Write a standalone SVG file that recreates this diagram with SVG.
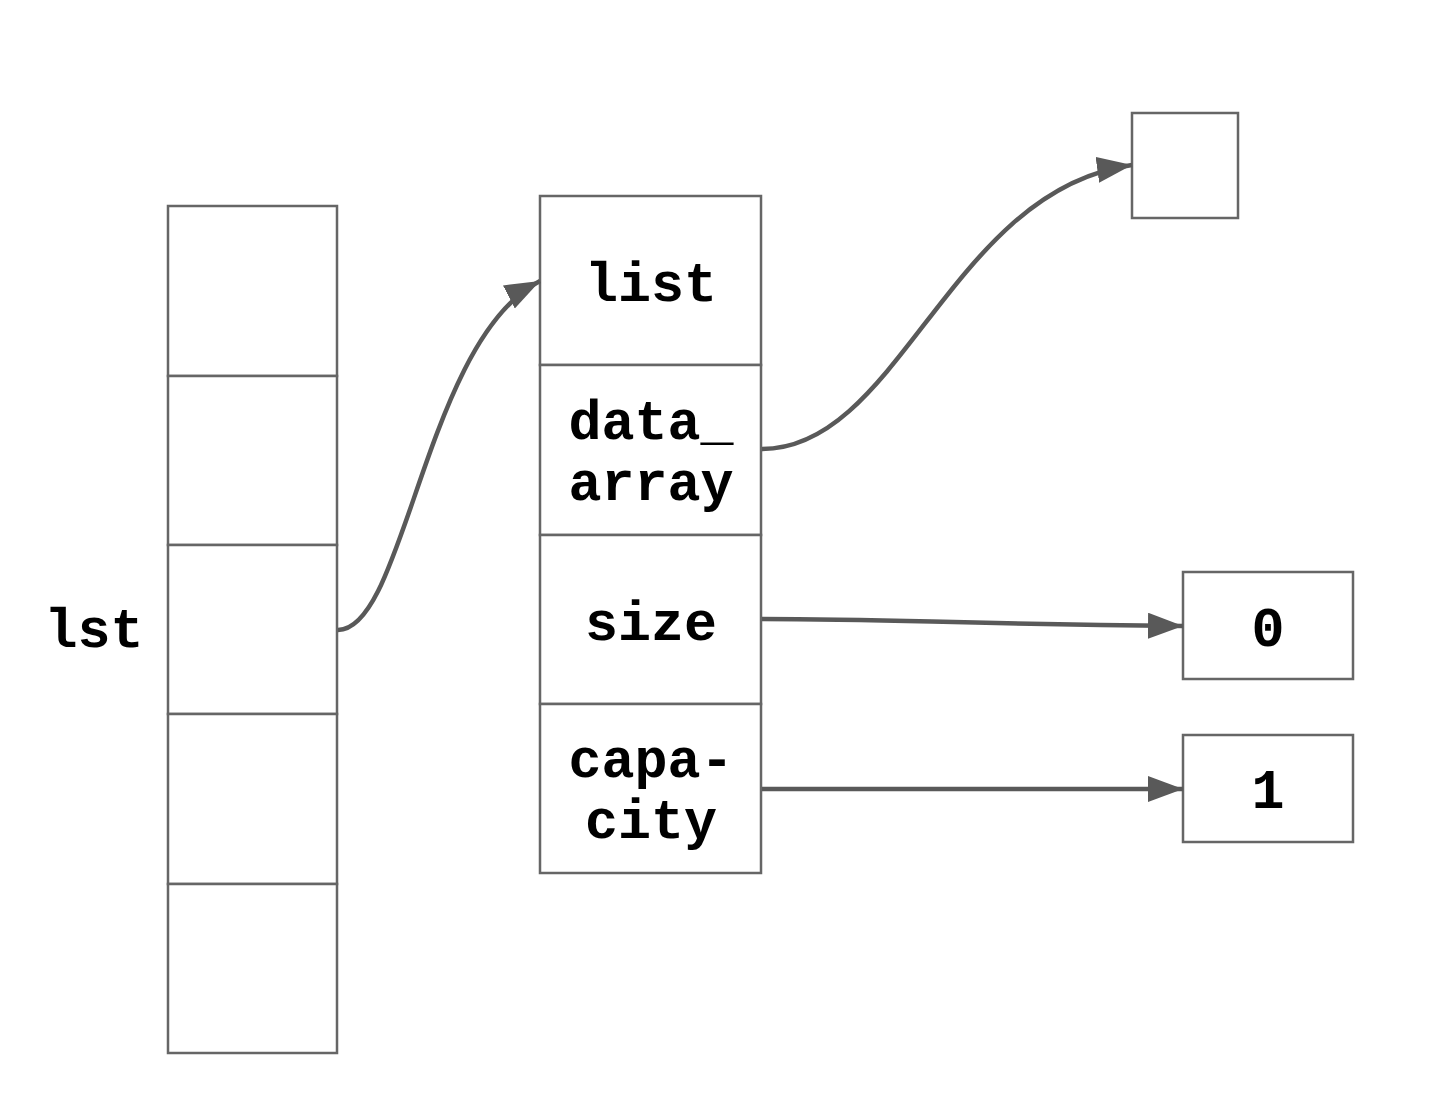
<svg xmlns="http://www.w3.org/2000/svg" width="1430" height="1094" viewBox="0 0 1430 1094">
<style>
.box{fill:#fff;stroke:#666;stroke-width:2.5}
.conn{fill:none;stroke:#595959;stroke-width:4.5}
.t{font-family:"Liberation Mono","Courier New",monospace;font-weight:bold;font-size:55px;fill:#000;text-anchor:middle}
</style>
<defs>
<marker id="ah" markerUnits="userSpaceOnUse" markerWidth="36" markerHeight="28" refX="35" refY="13" orient="auto">
<path d="M0,0 L35,13 L0,26 z" fill="#595959"/>
</marker>
</defs>
<rect width="1430" height="1094" fill="#fff"/>
<g id="lst-label"><text class="t" x="94" y="647">lst</text></g>
<g id="lst-array">
<rect class="box" x="168" y="206" width="169" height="170"/>
<rect class="box" x="168" y="376" width="169" height="169"/>
<rect class="box" x="168" y="545" width="169" height="169"/>
<rect class="box" x="168" y="714" width="169" height="170"/>
<rect class="box" x="168" y="884" width="169" height="169"/>
</g>
<g id="struct">
<rect class="box" x="540" y="196" width="221" height="169"/>
<rect class="box" x="540" y="365" width="221" height="170"/>
<rect class="box" x="540" y="535" width="221" height="169"/>
<rect class="box" x="540" y="704" width="221" height="169"/>
<text class="t" x="651" y="301">list</text>
<text class="t" x="651" y="439">data_</text>
<text class="t" x="651" y="500">array</text>
<text class="t" x="651" y="640">size</text>
<text class="t" x="651" y="777">capa-</text>
<text class="t" x="651" y="838">city</text>
</g>
<g id="data-box"><rect class="box" x="1132" y="113" width="106" height="105"/></g>
<g id="size-box"><rect class="box" x="1183" y="572" width="170" height="107"/><text class="t" x="1268" y="646">0</text></g>
<g id="cap-box"><rect class="box" x="1183" y="735" width="170" height="107"/><text class="t" x="1268" y="808">1</text></g>
<g id="connectors">
<path class="conn" d="M338,630 C405,630 425,340 540,281" marker-end="url(#ah)"/>
<path class="conn" d="M762,449 C900,449 950,190 1132,165" marker-end="url(#ah)"/>
<path class="conn" d="M762,619 C900,619 950,624 1183,626" marker-end="url(#ah)"/>
<path class="conn" d="M762,789 L1183,789" marker-end="url(#ah)"/>
</g>
</svg>
